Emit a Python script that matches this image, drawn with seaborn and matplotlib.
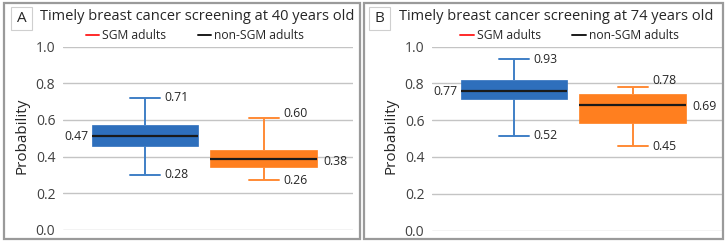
import numpy as np
import pandas as pd
import seaborn as sns
import matplotlib.pyplot as plt
from matplotlib.lines import Line2D
from matplotlib.patches import Rectangle

# DATA (five-number summaries: low whisker, q1, median, q3, high whisker)
GROUPS = ['non-SGM adults', 'SGM adults']
TITLES = ['Timely breast cancer screening at 40 years old',
          'Timely breast cancer screening at 74 years old']
PANELS = ['A', 'B']
A_NONSGM = [0.30, 0.457, 0.513, 0.57, 0.72]
A_SGM = [0.27, 0.345, 0.386, 0.435, 0.61]
B_NONSGM = [0.516, 0.715, 0.76, 0.82, 0.933]
B_SGM = [0.461, 0.585, 0.681, 0.744, 0.78]
# printed labels: high whisker, median, low whisker
A_LABELS = [['0.71', '0.47', '0.28'], ['0.60', '0.38', '0.26']]
B_LABELS = [['0.93', '0.77', '0.52'], ['0.78', '0.69', '0.45']]
YTICKS = [0.0, 0.2, 0.4, 0.6, 0.8, 1.0]

BOX_COLORS = ['#2E6FBC', '#FF7F1F']
LINE_COLORS = ['#3F7FC6', '#FF8A35']
FONT = ['Open Sans', 'DejaVu Sans']
TXT = '#262626'

sns.set_style('white')
plt.rcParams['font.family'] = FONT

fig = plt.figure(figsize=(7.28, 2.46), dpi=100)
W, H = 728, 246


def px(x, y):
    return x / W, 1 - y / H


# panel frames and letter boxes
for (x0, y0, x1, y1) in [(4, 3, 360, 239), (364, 3, 723, 239)]:
    fig.patches.append(Rectangle(px(x0, y1), (x1 - x0) / W, (y1 - y0) / H,
                                 transform=fig.transFigure, fill=False,
                                 ec='#9A9A9A', lw=1.6))
for (x0, y0, x1, y1), letter in zip([(11, 7, 32, 30), (369, 7, 390, 30)], PANELS):
    fig.patches.append(Rectangle(px(x0, y1), (x1 - x0) / W, (y1 - y0) / H,
                                 transform=fig.transFigure, fill=False,
                                 ec='#CFCFCF', lw=0.8))
    fig.text(*px((x0 + x1) / 2, 18.5), letter, ha='center', va='center',
             fontsize=11, color=TXT)

panel_data = [(A_NONSGM, A_SGM), (B_NONSGM, B_SGM)]
panel_labels = [A_LABELS, B_LABELS]
axes_pos = [(63, 46.7, 353, 229.7), (432, 46.7, 722, 230.5)]
title_x = [40, 399]
ylab_x = [22.5, 391]
legend_x = [0.455, 0.474]

for i in range(2):
    x0, y0, x1, y1 = axes_pos[i]
    ax = fig.add_axes([x0 / W, 1 - y1 / H, (x1 - x0) / W, (y1 - y0) / H])
    for g, vals in enumerate(panel_data[i]):
        df = pd.DataFrame({'group': [GROUPS[g]] * len(vals), 'p': vals})
        sns.boxplot(data=df, x='group', y='p', order=GROUPS, ax=ax,
                    color=BOX_COLORS[g], linecolor=LINE_COLORS[g], width=0.9,
                    whis=(0, 100), saturation=1, linewidth=1.4,
                    capwidths=0.25,
                    boxprops=dict(edgecolor=BOX_COLORS[g], linewidth=0.5),
                    medianprops=dict(color='#1A1A1A', linewidth=1.6))
    ax.set_xlim(-0.69, 1.75)
    ax.set_ylim(0, 1.0)
    ax.set_yticks(YTICKS)
    ax.set_yticklabels([f'{t:.1f}' for t in YTICKS], fontsize=10, color='#404040')
    ax.tick_params(axis='y', length=0, pad=5.5)
    ax.set_xticks([])
    ax.set_xlabel('')
    ax.set_ylabel('')
    ax.yaxis.grid(True, color='#C4C4C4', lw=1)
    ax.set_axisbelow(True)
    for s in ax.spines.values():
        s.set_visible(False)

    # value labels
    labs = panel_labels[i]
    for g, vals in enumerate(panel_data[i]):
        hi_lab, med_lab, lo_lab = labs[g]
        cap_r = g + 0.125
        box_l = g - 0.45
        box_r = g + 0.45
        kw = dict(textcoords='offset points', fontsize=8.8, color=TXT, va='center')
        hi_dy = 0 if g == 0 else (3 if i == 0 else 5)
        ax.annotate(hi_lab, (cap_r, vals[4]), xytext=(3.5, hi_dy), ha='left', **kw)
        ax.annotate(lo_lab, (cap_r, vals[0]), xytext=(3.5, -0.5 if g else 0), ha='left', **kw)
        if g == 0:
            ax.annotate(med_lab, (box_l, vals[2]), xytext=(-2.5, -0.3), ha='right', **kw)
        else:
            ax.annotate(med_lab, (box_r, vals[2]), xytext=(4, -2 if i == 0 else -0.7),
                        ha='left', **kw)

    ax.legend(handles=[Line2D([], [], color='#FF2A2A', lw=1.4),
                       Line2D([], [], color='#1A1A1A', lw=1.4)],
              labels=['SGM adults', 'non-SGM adults'],
              loc='center', bbox_to_anchor=(legend_x[i], 1.06), ncol=2, frameon=False,
              handlelength=1.1, handletextpad=0.25, columnspacing=2.6,
              fontsize=8.7, labelcolor=TXT)

    fig.text(*px(title_x[i], 17), TITLES[i], ha='left', va='center',
             fontsize=10.5, color=TXT)
    fig.text(*px(ylab_x[i], 136), 'Probability', ha='center', va='center',
             rotation=90, fontsize=11, color=TXT)

fig.savefig('out.png', dpi=100)
